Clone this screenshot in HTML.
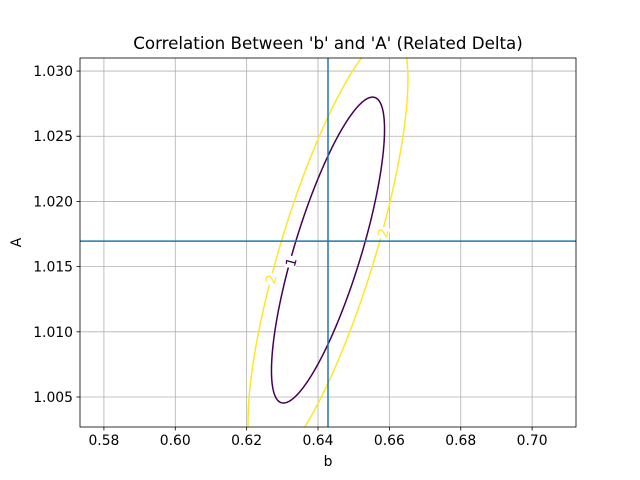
<!DOCTYPE html>
<html><head><meta charset="utf-8"><style>body{margin:0;background:#fff}svg{display:block}text{font-family:"DejaVu Sans","Liberation Sans",sans-serif}</style></head>
<body>
<svg id="c" width="640" height="480"></svg>
<script>
const xTicks=[0.58,0.60,0.62,0.64,0.66,0.68,0.70];
const yTicks=[1.005,1.010,1.015,1.020,1.025,1.030];
const levels=[1,2];
const levelColors=['#440154','#fde725'];
const center=[0.6428,1.01627];
const sigmas=[0.01584,0.01173];
const rho=[0.788];
const refLines=[0.6428,1.01696];
const X0=80,X1=576,Y0=58,Y1=427;
const xmin=0.5733,xmax=0.7123,ymin=1.0027,ymax=1.0310;
const sx=v=>X0+(v-xmin)/(xmax-xmin)*(X1-X0);
const sy=v=>Y1-(v-ymin)/(ymax-ymin)*(Y1-Y0);
const svg=document.getElementById('c');const NS='http://www.w3.org/2000/svg';
function mk(t,a,p){const e=document.createElementNS(NS,t);for(const k in a)e.setAttribute(k,a[k]);(p||svg).appendChild(e);return e;}
const defs=mk('defs',{});const cp=mk('clipPath',{id:'cp'},defs);mk('rect',{x:X0,y:Y0,width:X1-X0,height:Y1-Y0},cp);
const grid=mk('g',{stroke:'#b0b0b0','stroke-width':0.8});


xTicks.forEach(v=>{mk('line',{x1:sx(v),x2:sx(v),y1:Y0,y2:Y1},grid);});
yTicks.forEach(v=>{mk('line',{x1:X0,x2:X1,y1:sy(v),y2:sy(v)},grid);});
const cg=mk('g',{'clip-path':'url(#cp)',fill:'none','stroke-width':1.5});
levels.forEach((L,i)=>{const s=Math.sqrt(L);let d='';const r=rho[0],q=Math.sqrt(1-r*r);
for(let k=0;k<=360;k++){const t=k*Math.PI/180;const b=center[0]+s*sigmas[0]*Math.cos(t);const A=center[1]+s*sigmas[1]*(r*Math.cos(t)+q*Math.sin(t));d+=(k?'L':'M')+sx(b).toFixed(2)+','+sy(A).toFixed(2);}
const p=mk('path',{d:d,stroke:levelColors[i]},cg);

});
const vl=mk('line',{x1:sx(refLines[0]),x2:sx(refLines[0]),y1:Y0,y2:Y1,stroke:'#1f77b4','stroke-width':1.5});


const hl=mk('line',{x1:X0,x2:X1,y1:sy(refLines[1]),y2:sy(refLines[1]),stroke:'#1f77b4','stroke-width':1.5});


function lab(x,y,t,c,rot,name){const g=mk('g',{transform:`translate(${x},${y}) rotate(${rot})`});mk('rect',{x:-6,y:-6,width:12,height:12,fill:'#fff'},g);const e=mk('text',{x:0,y:5,'text-anchor':'middle','font-size':13.9,fill:c},g);e.textContent=t;

}
lab(291,262,'1',levelColors[0],-75,'contour-label-1');
lab(271,279,'2',levelColors[1],-75,'contour-label-2-left');
lab(383,233,'2',levelColors[1],-75,'contour-label-2-right');
mk('rect',{x:X0,y:Y0,width:X1-X0,height:Y1-Y0,fill:'none',stroke:'#000','stroke-width':0.8});
xTicks.forEach(v=>{mk('line',{x1:sx(v),x2:sx(v),y1:Y1,y2:Y1+3.5,stroke:'#000','stroke-width':0.8});const t=mk('text',{x:sx(v),y:Y1+18,'text-anchor':'middle','font-size':13.9});t.textContent=v.toFixed(2);

});
yTicks.forEach(v=>{mk('line',{x1:X0-3.5,x2:X0,y1:sy(v),y2:sy(v),stroke:'#000','stroke-width':0.8});const t=mk('text',{x:X0-7,y:sy(v)+5,'text-anchor':'end','font-size':13.9});t.textContent=v.toFixed(3);

});
const xt=mk('text',{x:(X0+X1)/2,y:Y1+39,'text-anchor':'middle','font-size':13.9});xt.textContent='b';


const yt=mk('text',{x:21,y:(Y0+Y1)/2,'text-anchor':'middle','font-size':13.9,transform:`rotate(-90 21 ${(Y0+Y1)/2})`});yt.textContent='A';


const tt=mk('text',{x:(X0+X1)/2,y:49,'text-anchor':'middle','font-size':16.7});tt.textContent="Correlation Between 'b' and 'A' (Related Delta)";


</script>
</body></html>
